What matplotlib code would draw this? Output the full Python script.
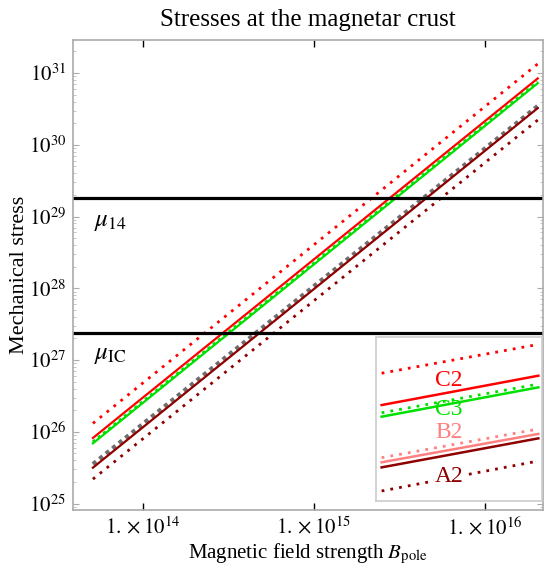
import numpy as np
import matplotlib
matplotlib.use("Agg")
import matplotlib.pyplot as plt
from matplotlib.ticker import FixedLocator, LogLocator, NullFormatter

plt.rcParams['font.family'] = ['Liberation Serif', 'DejaVu Serif']
plt.rcParams['mathtext.fontset'] = 'stix'

# field range covered by every curve (gauss)
b_range = [5.1e13, 2.05e16]

# stress at the two ends of each curve
c2_dot = [1.31e26, 1.34e31]
c2 = [8.2e25, 8.4e30]
c3_dot = [7.2e25, 7.5e30]
c3 = [6.9e25, 7.2e30]
grey_dot = [3.55e25, 3.47e30]
a2 = [3.16e25, 3.24e30]
a2_dot = [2.19e25, 2.21e30]

# breaking stresses
mu_14 = 1.8e29
mu_ic = 2.4e27

x_ticks = [1e14, 1e15, 1e16]
x_ticklabels = [r'$1.\times10^{14}$', r'$1.\times10^{15}$', r'$1.\times10^{16}$']
y_ticks = [1e25, 1e26, 1e27, 1e28, 1e29, 1e30, 1e31]

RED = '#ff0000'
GREEN = '#00e000'
SALMON = '#ff8080'
DARKRED = '#8e0000'
DOT = (0, (1, 2.2))

fig = plt.figure(figsize=(5.46, 5.71), dpi=100)
ax = fig.add_axes([0.1337, 0.1068, 0.8608, 0.8232])

ax.plot(b_range, c2_dot, color=RED, lw=2, ls=DOT)
ax.plot(b_range, c2, color=RED, lw=1.6)
ax.plot(b_range, c3, color=GREEN, lw=1.6)
ax.plot(b_range, c3_dot, color=GREEN, lw=2.2, ls=(0, (1, 1.2)))
ax.plot(b_range, grey_dot, color='#6e6e6e', lw=3, ls=(0, (1, 1)))
ax.plot(b_range, a2, color=DARKRED, lw=1.6)
ax.plot(b_range, a2_dot, color=DARKRED, lw=2, ls=DOT)

ax.axhline(mu_14, color='black', lw=2.3)
ax.axhline(mu_ic, color='black', lw=2.3)
ax.text(0.045, 0.613, r'$\mu_{14}$', transform=ax.transAxes, fontsize=18, va='center')
ax.text(0.045, 0.33, r'$\mu_{\rm IC}$', transform=ax.transAxes, fontsize=18, va='center')

ax.set_xscale('log')
ax.set_yscale('log')
ax.set_xlim(3.9e13, 2.2e16)
ax.set_ylim(10**24.91, 10**31.46)

ax.xaxis.set_major_locator(FixedLocator(x_ticks))
ax.set_xticklabels(x_ticklabels)
ax.xaxis.set_minor_locator(FixedLocator([]))
ax.yaxis.set_major_locator(FixedLocator(y_ticks))
ax.set_yticklabels([r'$10^{%d}$' % int(np.log10(t)) for t in y_ticks])
ax.yaxis.set_minor_locator(LogLocator(base=10, subs=np.arange(2, 10)))
ax.yaxis.set_minor_formatter(NullFormatter())

ax.tick_params(axis='x', which='major', direction='in', top=True, length=5,
               width=1, color='black', labelsize=15, pad=5)
ax.tick_params(axis='y', which='major', direction='in', right=True, length=4,
               width=0.8, color='#aaaaaa', labelsize=15, pad=5)
ax.tick_params(axis='y', which='minor', direction='in', right=True, length=2.5,
               width=0.6, color='#bbbbbb')
for s in ax.spines.values():
    s.set_color('#aaaaaa')
    s.set_linewidth(1.2)

ax.set_title('Stresses at the magnetar crust', fontsize=18, pad=10)
ax.set_xlabel(r'Magnetic field strength $B_{\rm pole}$', fontsize=15, labelpad=2)
ax.set_ylabel('Mechanical stress', fontsize=16, labelpad=0)

# inset legend
leg = fig.add_axes([0.6886, 0.1226, 0.3041, 0.2872])
leg.set_xlim(0, 1)
leg.set_ylim(0, 1)
leg.set_xticks([])
leg.set_yticks([])
for s in leg.spines.values():
    s.set_color('#cccccc')
    s.set_linewidth(1.2)

lx = [0.034, 0.978]
leg.plot(lx, [0.779, 0.955], color=RED, lw=2, ls=DOT)
leg.plot(lx, [0.585, 0.764], color=RED, lw=1.8)
leg.plot(lx, [0.538, 0.713], color=GREEN, lw=2, ls=DOT)
leg.plot(lx, [0.514, 0.693], color=GREEN, lw=1.8)
leg.plot(lx, [0.264, 0.439], color=SALMON, lw=2, ls=DOT)
leg.plot(lx, [0.236, 0.409], color=SALMON, lw=1.8)
leg.plot(lx, [0.205, 0.382], color=DARKRED, lw=1.8)
leg.plot(lx, [0.061, 0.244], color=DARKRED, lw=2, ls=DOT)

leg.text(0.44, 0.734, 'C2', color=RED, fontsize=17, ha='center', va='center')
leg.text(0.44, 0.555, 'C3', color=GREEN, fontsize=17, ha='center', va='center')
leg.text(0.44, 0.419, 'B2', color=SALMON, fontsize=17, ha='center', va='center')
leg.text(0.44, 0.148, 'A2', color=DARKRED, fontsize=17, ha='center', va='center',
         bbox=dict(facecolor='white', edgecolor='none', pad=0.5))

fig.savefig('out.png', dpi=100)
